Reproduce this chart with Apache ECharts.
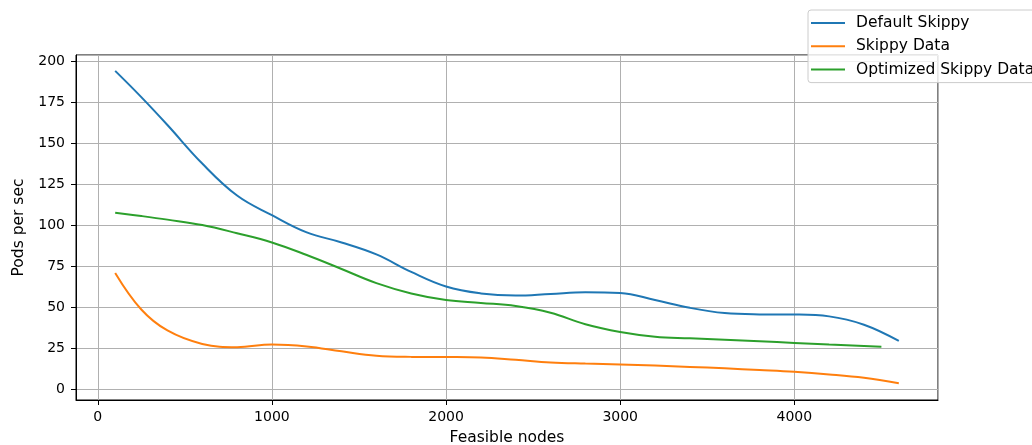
<!DOCTYPE html>
<html>
<head>
<meta charset="utf-8">
<script src="https://cdn.jsdelivr.net/npm/echarts@6/dist/echarts.min.js"></script>
<style>html,body{margin:0;padding:0;background:#fff}#c{width:1032px;height:445px}</style>
</head>
<body>
<div id="c"></div>
<script>
const xDefault = [100,250,400,600,800,1000,1200,1400,1600,1800,2000,2200,2400,2600,2800,3000,3200,3400,3600,3800,4000,4200,4400,4600];
const defaultSkippy = [194,178,161,137.5,118,106,95.5,89.4,82.1,71.4,62.5,58.3,57,58,59,58.6,54.3,49.5,46.3,45.5,45.4,44.3,39.2,29.3];
const xOptimized = [100,250,400,600,800,1000,1200,1400,1600,1800,2000,2200,2400,2600,2800,3000,3200,3400,3600,3800,4000,4200,4400,4500];
const optimizedSkippy = [107.5,105.5,103.3,100,95,89.4,81.7,73.2,64.6,58.3,54.3,52.5,50.6,46.5,39.5,34.8,31.9,30.9,30,29.1,28.1,27.1,26.2,25.8];
const xData = [100,250,400,600,800,1000,1200,1400,1600,1800,2000,2200,2400,2600,2800,3000,3200,3400,3600,3800,4000,4200,4400,4600];
const skippyData = [70.8,48.5,35.7,27.5,25.5,27.2,26,23,20.3,19.6,19.5,19.2,17.8,16.2,15.5,15,14.3,13.5,12.6,11.6,10.5,8.9,6.8,3.5];
const seriesNames = ['Default Skippy','Skippy Data','Optimized Skippy Data'];
const colors = ['#1f77b4','#ff7f0e','#2ca02c'];

const pair = (xs, ys) => xs.map((x, i) => [x, ys[i]]);
const font = 'DejaVu Sans';
const chart = echarts.init(document.getElementById('c'), null, {renderer:'canvas'});
chart.setOption({
  animation: false,
  backgroundColor: '#fff',
  color: colors,
  grid: {left: 76, right: 94, top: 55, bottom: 45, outerBoundsMode: 'none', containLabel: false, show: true, borderColor: '#000', borderWidth: 1, backgroundColor: 'transparent'},
  legend: {
    left: 808, top: 10, orient: 'vertical',
    padding: [5, 10, 5, 3],
    icon: 'rect',
    itemWidth: 34, itemHeight: 2, itemGap: 7.3,
    backgroundColor: 'rgba(255,255,255,0.8)',
    borderColor: '#cccccc', borderWidth: 1, borderRadius: 3,
    textStyle: {fontFamily: font, fontSize: 15.5, color: '#000', padding: [0,0,0,6], lineHeight: 16},
    data: seriesNames
  },
  xAxis: {
    type: 'value', min: -125, max: 4825, minInterval: 1000, maxInterval: 1000,
    name: 'Feasible nodes', nameLocation: 'middle', nameGap: 30,
    nameTextStyle: {fontFamily: font, fontSize: 15.5, color: '#000'},
    axisLine: {show: true, onZero: false, lineStyle: {color: '#000'}},
    axisTick: {show: true, length: 5, lineStyle: {color: '#000'}},
    axisLabel: {fontFamily: font, fontSize: 14, color: '#000', margin: 10, showMinLabel: false, showMaxLabel: false, formatter: v => String(v)},
    splitLine: {show: true, lineStyle: {color: '#b0b0b0', width: 1}}
  },
  yAxis: {
    type: 'value', min: -6.7, max: 203.7, minInterval: 25, maxInterval: 25,
    name: 'Pods per sec', nameLocation: 'middle', nameGap: 47, nameRotate: 90,
    nameTextStyle: {fontFamily: font, fontSize: 15.5, color: '#000'},
    axisLine: {show: true, onZero: false, lineStyle: {color: '#000'}},
    axisTick: {show: true, length: 5, lineStyle: {color: '#000'}},
    axisLabel: {fontFamily: font, fontSize: 14, color: '#000', margin: 11, showMinLabel: false, showMaxLabel: false, formatter: v => String(v)},
    splitLine: {show: true, lineStyle: {color: '#b0b0b0', width: 1}}
  },
  series: [
    {name: seriesNames[0], type: 'line', data: pair(xDefault, defaultSkippy), smooth: 0.4, symbol: 'none', lineStyle: {width: 2}},
    {name: seriesNames[1], type: 'line', data: pair(xData, skippyData), smooth: 0.4, symbol: 'none', lineStyle: {width: 2}},
    {name: seriesNames[2], type: 'line', data: pair(xOptimized, optimizedSkippy), smooth: 0.4, symbol: 'none', lineStyle: {width: 2}}
  ]
});
</script>
</body>
</html>
